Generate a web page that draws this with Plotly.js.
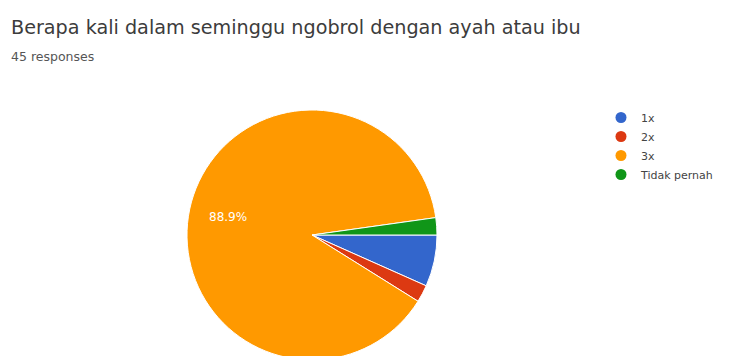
<!DOCTYPE html>
<html><head><meta charset="utf-8">
<script src="https://cdn.plot.ly/plotly-3.0.1.min.js"></script>
<style>html,body{margin:0;padding:0;overflow:hidden;background:#fff;width:736px;height:356px}#c{width:736px;height:400px}</style>
</head><body><div id="c"></div>
<script>
const categories = ['1x', '2x', '3x', 'Tidak pernah'];
const counts = [3, 1, 40, 1];
const colors = ['#3366cc', '#dc3912', '#ff9900', '#109618'];
const titleText = 'Berapa kali dalam seminggu ngobrol dengan ayah atau ibu';
const subtitleText = '45 responses';
const labelIndex = 2;

const W = 736, H = 400;
const total = counts.reduce((a, b) => a + b, 0);
const pctText = (100 * counts[labelIndex] / total).toFixed(1) + '%';

const traces = [{
  type: 'pie', labels: categories, values: counts, sort: false,
  direction: 'clockwise', rotation: 90,
  marker: {colors: colors, line: {color: '#ffffff', width: 1}},
  textinfo: 'none', hoverinfo: 'none', showlegend: false,
  domain: {x: [(312-125)/W, (312+125)/W], y: [1-360/H, 1-110/H]}
}];
categories.forEach((c, i) => traces.push({
  type: 'scatter', mode: 'markers', x: [null], y: [null], name: c,
  marker: {color: colors[i], size: 11, symbol: 'circle'}, showlegend: true
}));
Plotly.newPlot('c', traces, {
  width: W, height: H, margin: {l: 0, r: 0, t: 0, b: 0},
  paper_bgcolor: '#fff', plot_bgcolor: '#fff',
  xaxis: {visible: false}, yaxis: {visible: false},
  font: {family: 'Roboto, Arial, sans-serif'},
  legend: {x: 601/W, y: 1-103/H, xanchor: 'left', yanchor: 'top',
    font: {size: 11, color: '#444', family: 'DejaVu Sans, sans-serif'}, itemwidth: 30, tracegroupgap: 0, bgcolor: 'rgba(0,0,0,0)'},
  annotations: [
    {text: titleText, xref: 'paper', yref: 'paper', x: 9/W, y: 1-14/H, xanchor: 'left', yanchor: 'top',
     showarrow: false, font: {family: 'DejaVu Sans, sans-serif', size: 19.2, color: '#3c3c3c'}},
    {text: subtitleText, xref: 'paper', yref: 'paper', x: 9/W, y: 1-47/H, xanchor: 'left', yanchor: 'top',
     showarrow: false, font: {family: 'DejaVu Sans, sans-serif', size: 12.5, color: '#555'}},
    {text: pctText, xref: 'paper', yref: 'paper', x: 228/W, y: 1-217/H, xanchor: 'center', yanchor: 'middle',
     showarrow: false, font: {family: 'DejaVu Sans, sans-serif', size: 12, color: '#ffffff'}}
  ]
}, {staticPlot: true});
</script></body></html>
